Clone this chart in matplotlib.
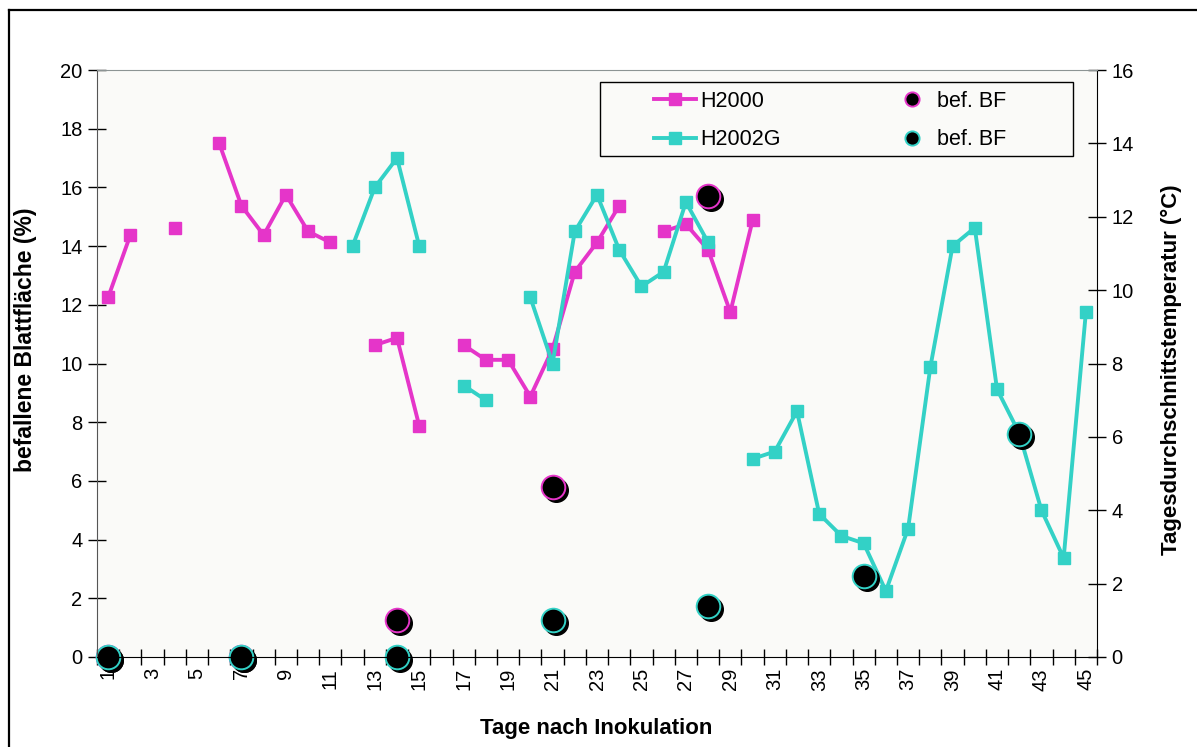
import numpy as np
import matplotlib
matplotlib.use("Agg")
import matplotlib.pyplot as plt
from matplotlib.lines import Line2D
from matplotlib.patches import Rectangle
from matplotlib.transforms import offset_copy

plt.rcParams["font.family"] = ["Liberation Sans", "DejaVu Sans"]

nan = np.nan

# Tage nach Inokulation (Kategorien 1..45)
days = list(range(1, 46))

# Tagesdurchschnittstemperatur (°C), rechte Achse
h2000_temp = [9.8, 11.5, nan, 11.7, nan, 14.0, 12.3, 11.5, 12.6, 11.6,
              11.3, nan, 8.5, 8.7, 6.3, nan, 8.5, 8.1, 8.1, 7.1,
              8.4, 10.5, 11.3, 12.3, nan, 11.6, 11.8, 11.1, 9.4, 11.9,
              nan, nan, nan, nan, nan, nan, nan, nan, nan, nan,
              nan, nan, nan, nan, nan]
h2002g_temp = [nan, nan, nan, nan, nan, nan, nan, nan, nan, nan,
               nan, 11.2, 12.8, 13.6, 11.2, nan, 7.4, 7.0, nan, 9.8,
               8.0, 11.6, 12.6, 11.1, 10.1, 10.5, 12.4, 11.3, nan, 5.4,
               5.6, 6.7, 3.9, 3.3, 3.1, 1.8, 3.5, 7.9, 11.2, 11.7,
               7.3, 6.1, 4.0, 2.7, 9.4]

# befallene Blattfläche (%), linke Achse
bf_days_h2000 = [1, 7, 14, 21, 28]
bf_h2000 = [0.0, 0.0, 1.25, 5.8, 15.7]
bf_days_h2002g = [1, 7, 14, 21, 28, 35, 42]
bf_h2002g = [0.0, 0.0, 0.0, 1.25, 1.75, 2.75, 7.6]

col_h2000 = "#E535C9"
col_h2002g = "#33D1C6"
bg = "#FAFAF8"

fig = plt.figure(figsize=(11.97, 7.47), dpi=100)
fig.patch.set_facecolor("white")

ax = fig.add_axes([97 / 1197, 90 / 747, 1000 / 1197, 587 / 747])
ax2 = ax.twinx()
ax.set_zorder(2)
ax2.set_zorder(1)
ax.patch.set_visible(False)
ax2.patch.set_visible(True)
ax2.patch.set_facecolor(bg)

# Temperaturlinien
l1, = ax2.plot(days, h2000_temp, color=col_h2000, lw=2.8, marker="s",
               ms=9, mec=col_h2000, mfc=col_h2000, label="H2000")
l2, = ax2.plot(days, h2002g_temp, color=col_h2002g, lw=2.8, marker="s",
               ms=9, mec=col_h2002g, mfc=col_h2002g, label="H2002G")

# Befallspunkte mit Schatten
shadow = offset_copy(ax.transData, fig=fig, x=3, y=-3, units="dots")
handles_dots = []
for d, v, c in [(bf_days_h2000, bf_h2000, col_h2000),
                (bf_days_h2002g, bf_h2002g, col_h2002g)]:
    ax.plot(d, v, ls="none", marker="o", ms=17, mfc="black", mec="black",
            transform=shadow, clip_on=False)
    h, = ax.plot(d, v, ls="none", marker="o", ms=17, mfc="black", mec=c,
                 mew=1.4, clip_on=False, label="bef. BF")
    handles_dots.append(h)

ax.set_xlim(0.5, 45.5)
ax.set_ylim(0, 20)
ax2.set_ylim(0, 16)
ax.set_yticks(np.arange(0, 21, 2))
ax2.set_yticks(np.arange(0, 17, 2))

odd = [d for d in days if d % 2 == 1]
ax.set_xticks(odd)
ax.set_xticklabels([str(d) for d in odd], rotation=90)
ax.set_xticks(np.arange(0.5, 46, 1), minor=True)
ax.tick_params(axis="x", which="major", length=0, pad=8, labelsize=14.5)
ax.tick_params(axis="x", which="minor", direction="inout", length=12, width=1)
ax.tick_params(axis="y", direction="inout", length=13, width=1, labelsize=14.5, pad=4)
ax2.tick_params(axis="y", direction="inout", length=13, width=1, labelsize=14.5, pad=4)

for s in ["left", "bottom", "right"]:
    ax.spines[s].set_color("black")
ax.spines["left"].set_color("#555555")
ax.spines["top"].set_color("#8C9494")
for s in ax2.spines.values():
    s.set_visible(False)

ax.set_xlabel("Tage nach Inokulation", fontsize=16, fontweight="bold")
ax.xaxis.set_label_coords(0.499, -0.104)
ax.set_ylabel("befallene Blattfläche (%)", fontsize=16.5, fontweight="bold")
ax.yaxis.set_label_coords(-0.06, 0.54)
ax2.set_ylabel("Tagesdurchschnittstemperatur (°C)", fontsize=16,
               fontweight="bold", rotation=90)
ax2.yaxis.set_label_coords(1.064, 0.49)

# Legendenrahmen + Legende
ax.add_patch(Rectangle((0.503, 0.8535), 0.473, 0.126, transform=ax.transAxes,
                       facecolor=bg, edgecolor="black", lw=1.0, zorder=4))
leg = ax.legend([l1, l2] + handles_dots,
                ["H2000", "H2002G", "bef. BF", "bef. BF"],
                ncol=2, loc="upper left",
                bbox_to_anchor=(0.557, 0.965),
                fontsize=15.5, frameon=False, handlelength=1.95,
                handletextpad=0.2, borderpad=0.0, borderaxespad=0.0,
                labelspacing=0.82, columnspacing=5.1, markerscale=0.6)
leg.set_zorder(5)
leg.legend_handles[0].set_markersize(9)
leg.legend_handles[1].set_markersize(9)

# äußerer Rahmen
fig.add_artist(Line2D([9 / 1197, 9 / 1197], [0, 1 - 10 / 747],
                      transform=fig.transFigure, color="black", lw=1.6))
fig.add_artist(Line2D([9 / 1197, 1], [1 - 10 / 747, 1 - 10 / 747],
                      transform=fig.transFigure, color="black", lw=1.6))

fig.savefig("out.png", dpi=100, facecolor="white")
